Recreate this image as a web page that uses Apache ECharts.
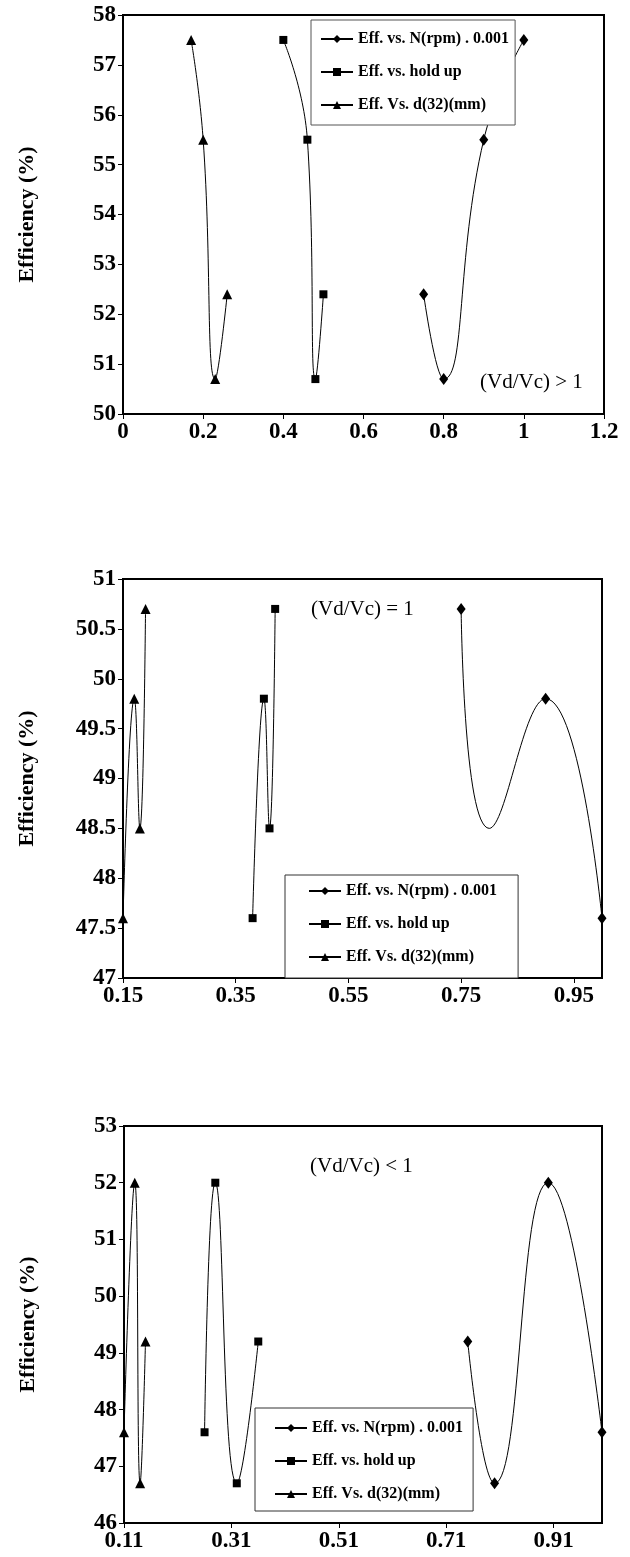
<!DOCTYPE html>
<html>
<head>
<meta charset="utf-8">
<script src="https://cdn.jsdelivr.net/npm/echarts@6/dist/echarts.min.js"></script>
<style>
  html, body { margin: 0; padding: 0; background: #fff; }
  #chart { width: 630px; height: 1557px; }
</style>
</head>
<body>
<div id="chart"></div>
<script>
// Legend / series names
const seriesNames = ['Eff. vs. N(rpm) . 0.001', 'Eff. vs. hold up', 'Eff. Vs. d(32)(mm)'];

// Panel 1: (Vd/Vc) > 1
const effA = [52.4, 50.7, 55.5, 57.5];
const rpmA = [0.75, 0.80, 0.90, 1.00];
const holdA = [0.50, 0.48, 0.46, 0.40];
const d32A = [0.26, 0.23, 0.20, 0.17];

// Panel 2: (Vd/Vc) = 1
const effB = [50.7, 48.5, 49.8, 47.6];
const rpmB = [0.75, 0.80, 0.90, 1.00];
const holdB = [0.42, 0.41, 0.40, 0.38];
const d32B = [0.19, 0.18, 0.17, 0.15];

// Panel 3: (Vd/Vc) < 1
const effC = [49.2, 46.7, 52.0, 47.6];
const rpmC = [0.75, 0.80, 0.90, 1.00];
const holdC = [0.36, 0.32, 0.28, 0.26];
const d32C = [0.15, 0.14, 0.13, 0.11];

// Tick values of the x axes of panels 2 and 3
const xTicksB = [0.15, 0.35, 0.55, 0.75, 0.95];
const xTicksC = [0.11, 0.31, 0.51, 0.71, 0.91];

// Panel captions
const captions = ['(Vd/Vc) > 1', '(Vd/Vc) = 1', '(Vd/Vc) < 1'];

const SERIF = '"Liberation Serif", "Times New Roman", serif';
const symbols = ['diamond', 'rect', 'triangle'];
const symbolSizes = [[9, 12], 8, [10, 10]];

const grids = [
  { left: 123, top: 15, width: 481, height: 399 },
  { left: 123, top: 579, width: 479, height: 399 },
  { left: 124, top: 1126, width: 478, height: 397 }
];

function xAxisFor(idx, min, max, interval, ticks) {
  const ax = {
    gridIndex: idx, type: 'value', min: min, max: max,
    axisLine: { show: true, onZero: false, lineStyle: { color: '#000', width: 2 } },
    axisTick: { show: true, length: 5, lineStyle: { color: '#000', width: 1 } },
    splitLine: { show: false },
    axisLabel: { color: '#000', fontFamily: SERIF, fontWeight: 'bold', fontSize: 23, margin: 7 }
  };
  if (ticks) {
    ax.axisTick.customValues = ticks;
    ax.axisLabel.customValues = ticks;
    ax.axisLabel.formatter = v => v.toFixed(2);
  } else {
    ax.interval = interval;
  }
  return ax;
}

function yAxisFor(idx, min, max, interval) {
  return {
    gridIndex: idx, type: 'value', min: min, max: max, interval: interval,
    name: 'Efficiency (%)', nameLocation: 'middle', nameGap: 85,
    nameTextStyle: { color: '#000', fontFamily: SERIF, fontWeight: 'bold', fontSize: 22 },
    axisLine: { show: true, lineStyle: { color: '#000', width: 2 } },
    axisTick: { show: true, length: 5, lineStyle: { color: '#000', width: 1 } },
    splitLine: { show: false },
    axisLabel: { color: '#000', fontFamily: SERIF, fontWeight: 'bold', fontSize: 23, margin: 7 }
  };
}

function lineSeries(k, gridIdx, xs, ys, hiddenIdx) {
  return {
    type: 'line', name: seriesNames[k], xAxisIndex: gridIdx, yAxisIndex: gridIdx,
    data: xs.map((x, i) => {
      const item = { value: [x, ys[i]] };
      if (hiddenIdx != null && hiddenIdx === i) item.symbol = 'none';
      return item;
    }),
    smooth: true, showSymbol: true, showAllSymbol: true,
    symbol: symbols[k], symbolSize: symbolSizes[k],
    lineStyle: { color: '#000', width: 1 },
    itemStyle: { color: '#000' },
    emphasis: { disabled: true },
    animation: false
  };
}

function legendFor(left, top, padding, borderColor) {
  return {
    orient: 'vertical', left: left, top: top, padding: padding,
    itemGap: 17, itemWidth: 32, itemHeight: 10,
    backgroundColor: '#fff', borderColor: borderColor, borderWidth: 1,
    textStyle: { color: '#000', fontFamily: SERIF, fontWeight: 'bold', fontSize: 16, lineHeight: 14 },
    data: seriesNames, selectedMode: false
  };
}

function caption(text, left, top) {
  return {
    type: 'text', left: left, top: top, z: 10,
    style: { text: text, font: '21px ' + SERIF, fill: '#000' }
  };
}

const option = {
  backgroundColor: '#fff',
  animation: false,
  grid: grids.map(g => Object.assign({ show: true, borderColor: '#000', borderWidth: 2, backgroundColor: 'transparent' }, g)),
  xAxis: [
    xAxisFor(0, 0, 1.2, 0.2, null),
    xAxisFor(1, 0.15, 1.0, null, xTicksB),
    xAxisFor(2, 0.11, 1.0, null, xTicksC)
  ],
  yAxis: [
    yAxisFor(0, 50, 58, 1),
    yAxisFor(1, 47, 51, 0.5),
    yAxisFor(2, 46, 53, 1)
  ],
  legend: [
    legendFor(311, 20, [11, 6, 12, 9], '#555'),
    legendFor(285, 875, [8, 21, 13, 23], '#333'),
    legendFor(255, 1408, [12, 10, 9, 19], '#333')
  ],
  graphic: [
    caption(captions[0], 480, 372),
    caption(captions[1], 311, 599),
    caption(captions[2], 310, 1156)
  ],
  series: [
    lineSeries(0, 0, rpmA, effA),
    lineSeries(1, 0, holdA, effA),
    lineSeries(2, 0, d32A, effA),
    lineSeries(0, 1, rpmB, effB, 1),
    lineSeries(1, 1, holdB, effB),
    lineSeries(2, 1, d32B, effB),
    lineSeries(0, 2, rpmC, effC),
    lineSeries(1, 2, holdC, effC),
    lineSeries(2, 2, d32C, effC)
  ]
};

const chart = echarts.init(document.getElementById('chart'), null, { renderer: 'canvas' });
chart.setOption(option);
</script>
</body>
</html>
